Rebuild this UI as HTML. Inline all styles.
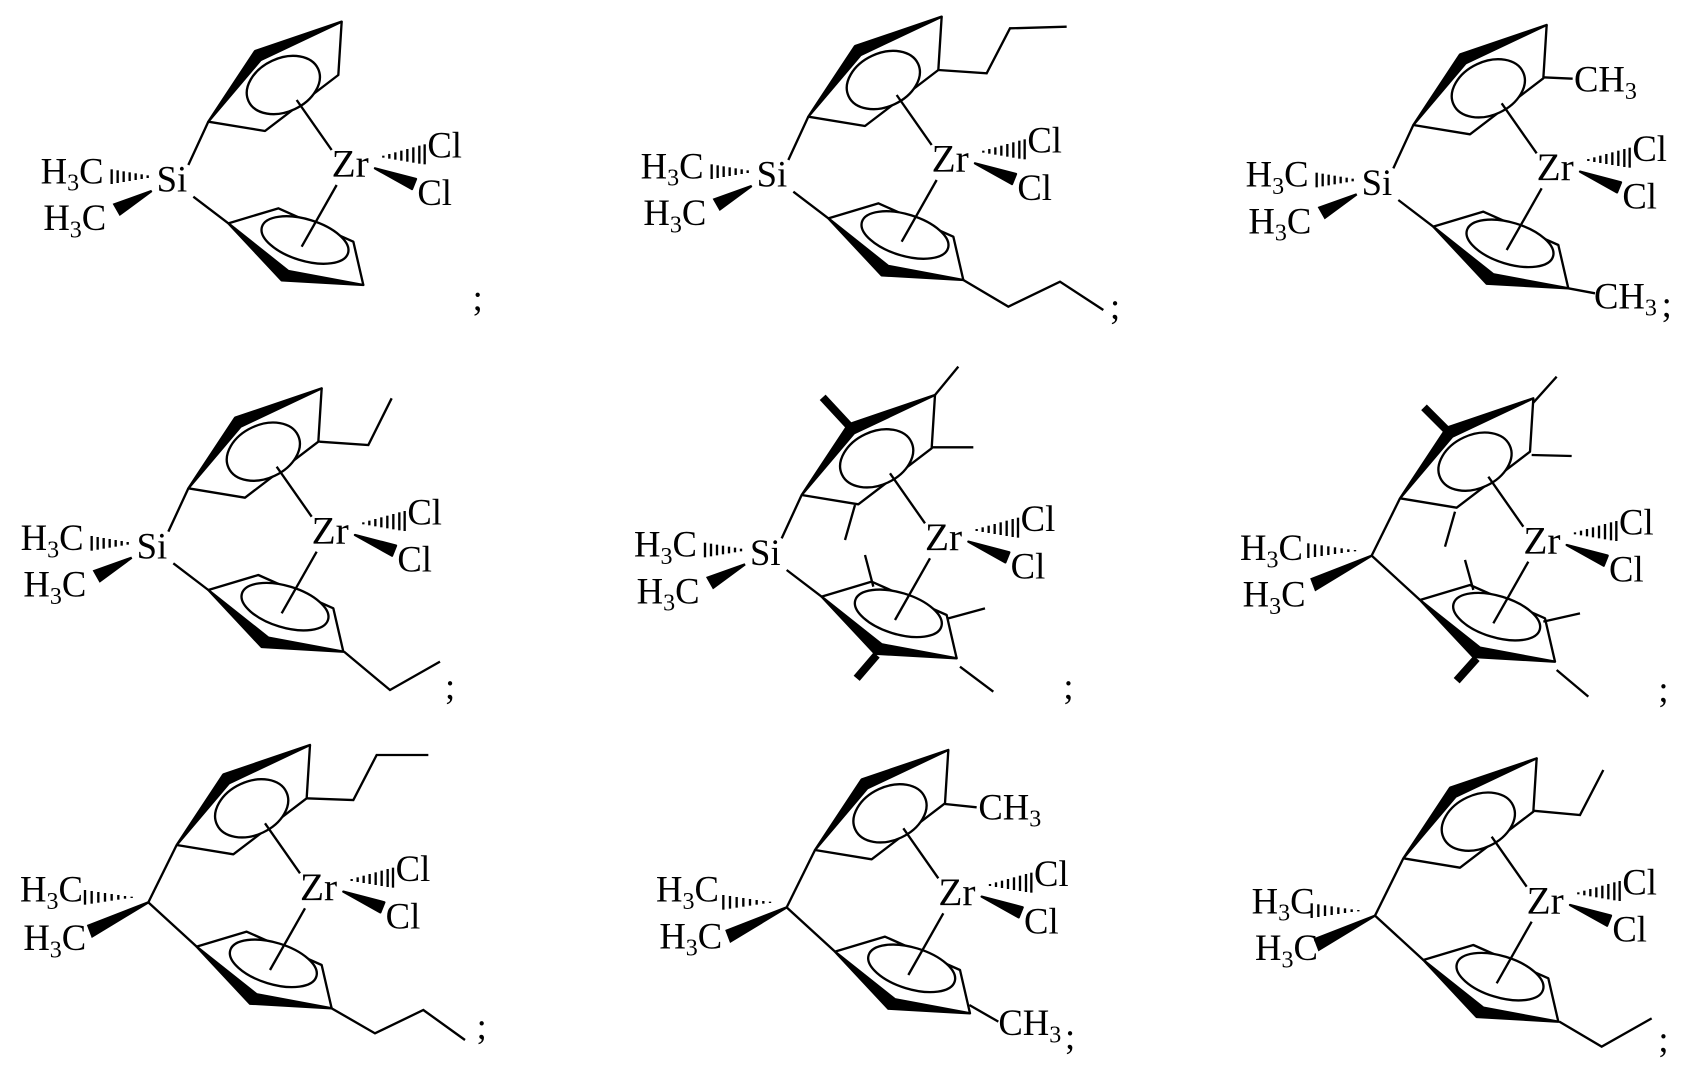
<!DOCTYPE html>
<html><head><meta charset="utf-8">
<style>
html,body{margin:0;padding:0;background:#fff;}
svg{display:block;}
text{font-family:"Liberation Serif",serif;font-size:110px;fill:#000;}
.zr{font-size:118px;}
</style></head>
<body>
<svg width="1691" height="1081" viewBox="0 0 1691 1081" xmlns="http://www.w3.org/2000/svg">
<defs>
<g id="core" stroke="#000" stroke-width="7" fill="none" stroke-linejoin="round">
  <polyline points="965,50 955,210 735,378 565,350"/>
  <polygon points="965,50 706,138 724,164" fill="#000"/>
  <polygon points="565,350 704,140 726,160" fill="#000"/>
  <ellipse cx="790" cy="240" rx="115" ry="80" transform="rotate(-25 790 240)" fill="#fff"/>
  <polyline points="625,655 775,610 1000,710 1030,840"/>
  <polygon points="625,655 805,798 1030,840 785,826" fill="#000"/>
  <ellipse cx="855" cy="705" rx="135" ry="62" transform="rotate(17 855 705)" fill="#fff"/>
  <line x1="830" y1="285" x2="935" y2="435"/>
  <line x1="950" y1="540" x2="845" y2="725"/>
  <g stroke-width="7">
    <line x1="1090" y1="458" x2="1090" y2="452"/>
    <line x1="1108" y1="461" x2="1108" y2="447"/>
    <line x1="1126" y1="464" x2="1126" y2="442"/>
    <line x1="1144" y1="467" x2="1144" y2="437"/>
    <line x1="1162" y1="470" x2="1162" y2="432"/>
    <line x1="1180" y1="473" x2="1180" y2="427"/>
    <line x1="1198" y1="476" x2="1198" y2="422"/>
    <line x1="1214" y1="478" x2="1214" y2="418"/>
  </g>
  <polygon points="1065,490 1188,522 1176,552" fill="#000"/>
</g>
<g id="si" stroke="#000" stroke-width="7" fill="none">
  <use href="#core"/>
  <line x1="505" y1="480" x2="565" y2="350"/>
  <line x1="520" y1="575" x2="625" y2="655"/>
  <g stroke-width="7">
    <line x1="275" y1="493" x2="275" y2="537"/>
    <line x1="293" y1="496" x2="293" y2="534"/>
    <line x1="311" y1="499" x2="311" y2="531"/>
    <line x1="329" y1="502" x2="329" y2="528"/>
    <line x1="347" y1="505" x2="347" y2="525"/>
    <line x1="365" y1="508" x2="365" y2="522"/>
    <line x1="383" y1="511" x2="383" y2="519"/>
  </g>
  <polygon points="395,558 283,598 300,628" fill="#000"/>
</g>
<g id="cb" stroke="#000" stroke-width="7" fill="none">
  <use href="#core"/>
  <line x1="480" y1="522" x2="565" y2="350"/>
  <line x1="480" y1="522" x2="625" y2="655"/>
  <g stroke-width="7">
    <line x1="290" y1="485" x2="290" y2="529"/>
    <line x1="310" y1="488" x2="310" y2="526"/>
    <line x1="330" y1="491" x2="330" y2="523"/>
    <line x1="350" y1="494" x2="350" y2="520"/>
    <line x1="370" y1="497" x2="370" y2="517"/>
    <line x1="390" y1="500" x2="390" y2="514"/>
    <line x1="410" y1="503" x2="410" y2="511"/>
    <line x1="430" y1="505" x2="430" y2="509"/>
  </g>
  <polygon points="480,522 300,592 312,624" fill="#000"/>
</g>
</defs>

<g transform="translate(0,0) scale(0.33333)">
 <g transform="translate(60,15)">
  <use href="#si"/>
  <text x="62" y="535">H<tspan font-size="72" dy="22">3</tspan><tspan dy="-22">C</tspan></text>
  <text x="70" y="675">H<tspan font-size="72" dy="22">3</tspan><tspan dy="-22">C</tspan></text>
  <text x="410" y="560">Si</text>
  <text class="zr" x="935" y="515">Zr</text>
  <text x="1222" y="458">Cl</text>
  <text x="1192" y="600">Cl</text>
 </g>
 <text x="1418" y="930">;</text>
</g>

<g transform="translate(620,0) scale(0.33333)">
 <g>
  <use href="#si"/>
  <text x="62" y="535">H<tspan font-size="72" dy="22">3</tspan><tspan dy="-22">C</tspan></text>
  <text x="70" y="675">H<tspan font-size="72" dy="22">3</tspan><tspan dy="-22">C</tspan></text>
  <text x="410" y="560">Si</text>
  <text class="zr" x="935" y="515">Zr</text>
  <text x="1222" y="458">Cl</text>
  <text x="1192" y="600">Cl</text>
 </g>
 <g stroke="#000" stroke-width="7" fill="none">
  <polyline points="955,210 1100,220 1170,85 1340,80"/>
  <polyline points="1030,840 1165,920 1320,845 1450,930"/>
 </g>
 <text x="1470" y="955">;</text>
</g>

<g transform="translate(1220,0) scale(0.33333)">
 <g transform="translate(15,25)">
  <use href="#si"/>
  <text x="62" y="535">H<tspan font-size="72" dy="22">3</tspan><tspan dy="-22">C</tspan></text>
  <text x="70" y="675">H<tspan font-size="72" dy="22">3</tspan><tspan dy="-22">C</tspan></text>
  <text x="410" y="560">Si</text>
  <text class="zr" x="935" y="515">Zr</text>
  <text x="1222" y="458">Cl</text>
  <text x="1192" y="600">Cl</text>
 </g>
 <g stroke="#000" stroke-width="7" fill="none">
  <line x1="968" y1="232" x2="1058" y2="236"/>
  <line x1="1045" y1="865" x2="1125" y2="880"/>
 </g>
 <text x="1062" y="275">CH<tspan font-size="72" dy="22">3</tspan></text>
 <text x="1122" y="925">CH<tspan font-size="72" dy="22">3</tspan></text>
 <text x="1325" y="950">;</text>
</g>

<g transform="translate(0,350) scale(0.33333)">
 <g transform="translate(0,65)">
  <use href="#si"/>
  <text x="62" y="535">H<tspan font-size="72" dy="22">3</tspan><tspan dy="-22">C</tspan></text>
  <text x="70" y="675">H<tspan font-size="72" dy="22">3</tspan><tspan dy="-22">C</tspan></text>
  <text x="410" y="560">Si</text>
  <text class="zr" x="935" y="515">Zr</text>
  <text x="1222" y="458">Cl</text>
  <text x="1192" y="600">Cl</text>
 </g>
 <g stroke="#000" stroke-width="7" fill="none">
  <polyline points="958,275 1105,285 1175,145"/>
  <polyline points="1032,905 1170,1020 1320,935"/>
 </g>
 <text x="1335" y="1045">;</text>
</g>

<g transform="translate(600,350) scale(0.33333)">
 <g transform="translate(40,85)">
  <use href="#si"/>
  <text x="62" y="535">H<tspan font-size="72" dy="22">3</tspan><tspan dy="-22">C</tspan></text>
  <text x="70" y="675">H<tspan font-size="72" dy="22">3</tspan><tspan dy="-22">C</tspan></text>
  <text x="410" y="560">Si</text>
  <text class="zr" x="935" y="515">Zr</text>
  <text x="1222" y="458">Cl</text>
  <text x="1192" y="600">Cl</text>
 </g>
 <g stroke="#000" stroke-width="7" fill="none">
  <line x1="1005" y1="135" x2="1075" y2="50"/>
  <line x1="995" y1="292" x2="1120" y2="292"/>
  <line x1="765" y1="465" x2="735" y2="570"/>
  <line x1="820" y1="710" x2="795" y2="615"/>
  <line x1="1045" y1="805" x2="1155" y2="775"/>
  <line x1="1080" y1="950" x2="1180" y2="1025"/>
  <line x1="745" y1="225" x2="668" y2="142" stroke-width="24"/>
  <line x1="830" y1="915" x2="770" y2="985" stroke-width="24"/>
 </g>
 <text x="1390" y="1045">;</text>
</g>

<g transform="translate(1200,350) scale(0.33333)">
 <g transform="translate(35,95)">
  <use href="#cb"/>
  <text x="85" y="535">H<tspan font-size="72" dy="22">3</tspan><tspan dy="-22">C</tspan></text>
  <text x="93" y="675">H<tspan font-size="72" dy="22">3</tspan><tspan dy="-22">C</tspan></text>
  <text class="zr" x="935" y="515">Zr</text>
  <text x="1222" y="458">Cl</text>
  <text x="1192" y="600">Cl</text>
 </g>
 <g stroke="#000" stroke-width="7" fill="none">
  <line x1="1000" y1="158" x2="1070" y2="80"/>
  <line x1="995" y1="315" x2="1115" y2="318"/>
  <line x1="765" y1="485" x2="735" y2="590"/>
  <line x1="820" y1="720" x2="795" y2="630"/>
  <line x1="1030" y1="815" x2="1140" y2="790"/>
  <line x1="1070" y1="960" x2="1165" y2="1040"/>
  <line x1="750" y1="250" x2="672" y2="172" stroke-width="24"/>
  <line x1="830" y1="925" x2="770" y2="992" stroke-width="24"/>
 </g>
 <text x="1375" y="1055">;</text>
</g>

<g transform="translate(0,720) scale(0.33333)">
 <g transform="translate(-35,25)">
  <use href="#cb"/>
  <text x="95" y="520">H<tspan font-size="72" dy="22">3</tspan><tspan dy="-22">C</tspan></text>
  <text x="105" y="665">H<tspan font-size="72" dy="22">3</tspan><tspan dy="-22">C</tspan></text>
  <text class="zr" x="935" y="515">Zr</text>
  <text x="1222" y="458">Cl</text>
  <text x="1192" y="600">Cl</text>
 </g>
 <g stroke="#000" stroke-width="7" fill="none">
  <polyline points="918,235 1060,240 1130,105 1285,105"/>
  <polyline points="995,865 1125,940 1270,870 1395,960"/>
 </g>
 <text x="1430" y="955">;</text>
</g>

<g transform="translate(600,720) scale(0.33333)">
 <g transform="translate(80,40)">
  <use href="#cb"/>
  <text x="88" y="505">H<tspan font-size="72" dy="22">3</tspan><tspan dy="-22">C</tspan></text>
  <text x="98" y="645">H<tspan font-size="72" dy="22">3</tspan><tspan dy="-22">C</tspan></text>
  <text class="zr" x="935" y="515">Zr</text>
  <text x="1222" y="458">Cl</text>
  <text x="1192" y="600">Cl</text>
 </g>
 <g stroke="#000" stroke-width="7" fill="none">
  <line x1="1035" y1="252" x2="1130" y2="262"/>
  <line x1="1108" y1="855" x2="1195" y2="905"/>
 </g>
 <text x="1135" y="298">CH<tspan font-size="72" dy="22">3</tspan></text>
 <text x="1195" y="945">CH<tspan font-size="72" dy="22">3</tspan></text>
 <text x="1395" y="985">;</text>
</g>

<g transform="translate(1200,720) scale(0.33333)">
 <g transform="translate(45,65)">
  <use href="#cb"/>
  <text x="110" y="515">H<tspan font-size="72" dy="22">3</tspan><tspan dy="-22">C</tspan></text>
  <text x="120" y="655">H<tspan font-size="72" dy="22">3</tspan><tspan dy="-22">C</tspan></text>
  <text class="zr" x="935" y="515">Zr</text>
  <text x="1222" y="458">Cl</text>
  <text x="1192" y="600">Cl</text>
 </g>
 <g stroke="#000" stroke-width="7" fill="none">
  <polyline points="998,272 1140,285 1210,150"/>
  <polyline points="1078,905 1205,980 1355,895"/>
 </g>
 <text x="1375" y="995">;</text>
</g>
</svg>
</body></html>
